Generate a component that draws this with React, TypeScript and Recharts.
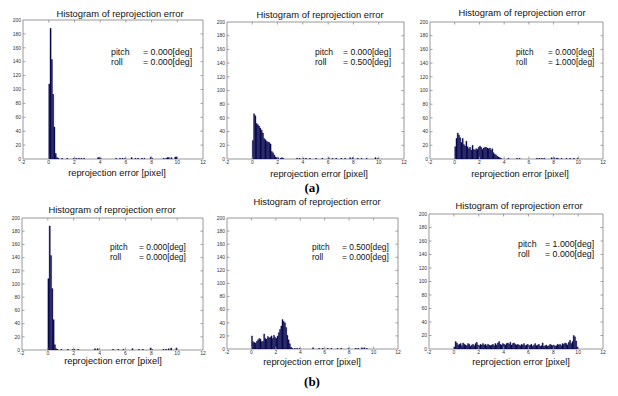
import React from "react";
import { BarChart, Bar, XAxis, YAxis, ReferenceArea, ReferenceLine } from "recharts";

// ── Histogram data: 100 bins of 0.1 px from 0 to 10 ─────────────────────────

const BIN_WIDTH = 0.1;
const X_DOMAIN: [number, number] = [-2, 12];
const Y_DOMAIN: [number, number] = [0, 200];
const X_TICKS = [-2, 0, 2, 4, 6, 8, 10, 12];
const Y_TICKS = [0, 20, 40, 60, 80, 100, 120, 140, 160, 180, 200];

// (a) pitch 0, roll 0
const countsRoll000 = [
  108, 188, 143, 93, 46, 8, 2, 1, 0, 0,
  1, 0, 0, 0, 1, 0, 0, 0, 0, 1,
  0, 1, 0, 1, 0, 1, 0, 1, 0, 0,
  0, 0, 0, 0, 0, 0, 0, 0, 2, 2,
  1, 0, 0, 0, 0, 0, 0, 0, 0, 0,
  0, 0, 1, 0, 0, 1, 0, 1, 0, 1,
  0, 0, 0, 0, 2, 0, 0, 1, 0, 1,
  0, 0, 1, 0, 1, 0, 0, 0, 0, 3,
  1, 0, 0, 0, 0, 0, 0, 0, 0, 1,
  0, 1, 2, 2, 0, 2, 0, 0, 3, 3
];

// (a) pitch 0, roll 0.5
const countsRoll050 = [
  27, 66, 63, 52, 50, 48, 45, 42, 38, 30,
  28, 26, 25, 24, 22, 11, 9, 6, 3, 2,
  2, 0, 1, 2, 1, 0, 0, 0, 0, 0,
  0, 0, 0, 0, 0, 1, 0, 1, 0, 0,
  1, 0, 1, 0, 0, 1, 0, 0, 0, 0,
  1, 0, 0, 0, 0, 1, 0, 0, 0, 0,
  2, 0, 0, 1, 0, 0, 1, 0, 0, 0,
  1, 0, 0, 1, 0, 0, 0, 2, 0, 2,
  0, 0, 0, 1, 0, 0, 1, 0, 0, 0,
  1, 0, 0, 0, 0, 0, 0, 2, 0, 1
];

// (a) pitch 0, roll 1.0
const countsRoll100 = [
  18, 30, 38, 35, 31, 24, 30, 21, 19, 26,
  18, 15, 17, 13, 20, 14, 13, 15, 14, 17,
  19, 17, 14, 16, 17, 17, 16, 15, 16, 13,
  15, 9, 7, 6, 4, 3, 2, 1, 0, 0,
  0, 0, 0, 1, 0, 0, 0, 0, 0, 0,
  1, 0, 1, 0, 0, 0, 0, 0, 0, 0,
  0, 0, 0, 0, 0, 0, 1, 0, 1, 0,
  1, 0, 1, 0, 0, 0, 0, 0, 2, 0,
  2, 0, 1, 1, 0, 0, 1, 0, 0, 0,
  1, 0, 0, 1, 0, 0, 1, 0, 0, 1
];

// (b) pitch 0, roll 0
const countsPitch000 = [
  108, 188, 143, 93, 46, 8, 2, 1, 0, 0,
  1, 0, 0, 0, 0, 1, 0, 0, 0, 1,
  1, 0, 0, 1, 0, 0, 0, 0, 0, 0,
  0, 0, 0, 0, 0, 0, 2, 0, 2, 0,
  0, 0, 0, 0, 0, 0, 0, 0, 0, 0,
  1, 0, 0, 0, 1, 0, 0, 0, 1, 0,
  0, 0, 0, 0, 0, 2, 0, 0, 0, 0,
  1, 0, 0, 1, 0, 0, 0, 0, 0, 3,
  1, 0, 0, 0, 0, 0, 0, 0, 0, 1,
  0, 1, 0, 2, 0, 3, 0, 0, 0, 3
];

// (b) pitch 0.5, roll 0
const countsPitch050 = [
  20, 11, 10, 9, 12, 14, 16, 15, 11, 12,
  23, 16, 15, 19, 17, 18, 20, 16, 21, 18,
  16, 20, 25, 30, 35, 45, 42, 40, 33, 21,
  14, 8, 3, 1, 0, 1, 0, 1, 0, 1,
  0, 0, 0, 0, 0, 0, 0, 0, 0, 0,
  2, 0, 0, 0, 0, 1, 0, 0, 1, 0,
  0, 0, 1, 0, 0, 1, 0, 0, 0, 0,
  1, 0, 0, 1, 0, 0, 0, 0, 0, 1,
  0, 0, 0, 0, 0, 1, 0, 1, 0, 0,
  2, 0, 2, 0, 1, 0, 0, 0, 0, 0
];

// (b) pitch 1.0, roll 0
const countsPitch100 = [
  3, 11, 9, 6, 7, 8, 5, 9, 7, 6,
  5, 8, 7, 4, 6, 7, 5, 8, 10, 6,
  5, 7, 6, 8, 6, 7, 5, 7, 6, 5,
  6, 7, 5, 8, 6, 9, 11, 7, 6, 8,
  7, 6, 8, 9, 7, 10, 6, 8, 9, 7,
  6, 7, 6, 5, 7, 6, 8, 5, 6, 7,
  5, 6, 7, 4, 6, 8, 5, 6, 7, 4,
  5, 9, 4, 5, 6, 4, 5, 7, 6, 5,
  6, 4, 5, 7, 6, 7, 5, 8, 7, 9,
  8, 6, 10, 13, 8, 11, 20, 18, 12, 3
];

// ── Layout ───────────────────────────────────────────────────────────────────

const FONT = "'Liberation Sans', Arial, sans-serif";
const BAR_FILL = "#09094f";
const BOX_STROKE = "#8c8c8c";
const TICK_LEN = 2.5;

const PANELS = [
  { counts: countsRoll000, pitch: "0.000", roll: "0.000",
    plot: { x: 23, y: 20, w: 180, h: 139 }, title: { x: 120, y: 13 }, xlabel: { x: 117, y: 173 },
    note: { x: 111, eq: 143, y: 52, size: 8.8 } },
  { counts: countsRoll050, pitch: "0.000", roll: "0.500",
    plot: { x: 227, y: 22, w: 177, h: 137 }, title: { x: 320, y: 14 }, xlabel: { x: 319, y: 174 },
    note: { x: 315, eq: 343, y: 52, size: 8.6 } },
  { counts: countsRoll100, pitch: "0.000", roll: "1.000",
    plot: { x: 430, y: 22, w: 173, h: 137 }, title: { x: 522, y: 12 }, xlabel: { x: 520, y: 174 },
    note: { x: 516, eq: 548, y: 52, size: 8.3 } },
  { counts: countsPitch000, pitch: "0.000", roll: "0.000",
    plot: { x: 22, y: 218, w: 181, h: 132 }, title: { x: 112, y: 209 }, xlabel: { x: 113, y: 361 },
    note: { x: 110, eq: 139, y: 247, size: 8.4 } },
  { counts: countsPitch050, pitch: "0.500", roll: "0.000",
    plot: { x: 227, y: 218, w: 171, h: 131 }, title: { x: 317, y: 201 }, xlabel: { x: 312, y: 362 },
    note: { x: 312, eq: 342, y: 247, size: 8.4 } },
  { counts: countsPitch100, pitch: "1.000", roll: "0.000",
    plot: { x: 429, y: 214, w: 174, h: 135 }, title: { x: 519, y: 205 }, xlabel: { x: 521, y: 362 },
    note: { x: 518, eq: 545, y: 244, size: 8.8 } }
];

const toBins = (counts: number[]) =>
  counts.map((count, i) => ({ x: +((i + 0.5) * BIN_WIDTH).toFixed(2), count }));

type PanelDef = (typeof PANELS)[number];

const HistPanel = ({ panel }: { panel: PanelDef }) => {
  const { plot } = panel;
  const axisW = 20;
  const axisH = 9;
  const xSpan = X_DOMAIN[1] - X_DOMAIN[0];
  const ySpan = Y_DOMAIN[1] - Y_DOMAIN[0];
  const dx = (TICK_LEN * xSpan) / plot.w;
  const dy = (TICK_LEN * ySpan) / plot.h;
  const tickStyle = { fontSize: 5, fill: "#333", fontFamily: FONT };

  return (
    <div style={{ position: "absolute", left: plot.x - axisW, top: plot.y - 3 }}>
      <BarChart
        width={plot.w + axisW + 5}
        height={plot.h + axisH + 3}
        data={toBins(panel.counts)}
        margin={{ top: 3, right: 5, bottom: 0, left: 0 }}
        barCategoryGap={0}
        barGap={0}
      >
        <XAxis
          type="number"
          dataKey="x"
          domain={X_DOMAIN}
          ticks={X_TICKS}
          interval={0}
          allowDataOverflow
          tickLine={false}
          axisLine={false}
          height={axisH}
          tickSize={0}
          tickMargin={1.5}
          tick={tickStyle}
        />
        <YAxis
          type="number"
          domain={Y_DOMAIN}
          ticks={Y_TICKS}
          interval={0}
          allowDataOverflow
          tickLine={false}
          axisLine={false}
          width={axisW}
          tickSize={0}
          tickMargin={2}
          tick={tickStyle}
        />
        <Bar
          dataKey="count"
          fill={BAR_FILL}
          stroke={BAR_FILL}
          strokeWidth={0.35}
          barSize={(plot.w * BIN_WIDTH) / xSpan}
          isAnimationActive={false}
        />
        <ReferenceArea
          x1={X_DOMAIN[0]}
          x2={X_DOMAIN[1]}
          y1={Y_DOMAIN[0]}
          y2={Y_DOMAIN[1]}
          fill="none"
          fillOpacity={0}
          stroke={BOX_STROKE}
          strokeWidth={0.9}
        />
        {X_TICKS.slice(1, -1).map((t) => (
          <ReferenceLine key={`xb${t}`} segment={[{ x: t, y: Y_DOMAIN[0] }, { x: t, y: Y_DOMAIN[0] + dy }]} stroke={BOX_STROKE} strokeWidth={0.8} />
        ))}
        {X_TICKS.slice(1, -1).map((t) => (
          <ReferenceLine key={`xt${t}`} segment={[{ x: t, y: Y_DOMAIN[1] }, { x: t, y: Y_DOMAIN[1] - dy }]} stroke={BOX_STROKE} strokeWidth={0.8} />
        ))}
        {Y_TICKS.slice(1, -1).map((t) => (
          <ReferenceLine key={`yl${t}`} segment={[{ x: X_DOMAIN[0], y: t }, { x: X_DOMAIN[0] + dx, y: t }]} stroke={BOX_STROKE} strokeWidth={0.8} />
        ))}
        {Y_TICKS.slice(1, -1).map((t) => (
          <ReferenceLine key={`yr${t}`} segment={[{ x: X_DOMAIN[1], y: t }, { x: X_DOMAIN[1] - dx, y: t }]} stroke={BOX_STROKE} strokeWidth={0.8} />
        ))}
      </BarChart>
    </div>
  );
};

const PanelText = ({ panel }: { panel: PanelDef }) => {
  const { note } = panel;
  return (
    <g fontFamily={FONT} fill="#111">
      <text x={panel.title.x} y={panel.title.y} fontSize={9.4} textAnchor="middle" dominantBaseline="central">
        Histogram of reprojection error
      </text>
      <text x={panel.xlabel.x} y={panel.xlabel.y} fontSize={9.3} textAnchor="middle" dominantBaseline="central">
        reprojection error [pixel]
      </text>
      <text x={note.x} y={note.y} fontSize={note.size} dominantBaseline="central">pitch</text>
      <text x={note.eq} y={note.y} fontSize={note.size} dominantBaseline="central">{`= ${panel.pitch}[deg]`}</text>
      <text x={note.x} y={note.y + 10} fontSize={note.size} dominantBaseline="central">roll</text>
      <text x={note.eq} y={note.y + 10} fontSize={note.size} dominantBaseline="central">{`= ${panel.roll}[deg]`}</text>
    </g>
  );
};

export default function App() {
  return (
    <div style={{ position: "absolute", left: 0, top: 0, width: 618, height: 396, background: "#fff" }}>
      {PANELS.map((p, i) => (
        <HistPanel key={i} panel={p} />
      ))}
      <svg width={618} height={396} style={{ position: "absolute", left: 0, top: 0, pointerEvents: "none" }}>
        {PANELS.map((p, i) => (
          <PanelText key={i} panel={p} />
        ))}
        <text x={312} y={187} fontSize={13} fontWeight="bold" fontFamily="'Liberation Serif', serif" textAnchor="middle" dominantBaseline="central">(a)</text>
        <text x={312} y={381} fontSize={13} fontWeight="bold" fontFamily="'Liberation Serif', serif" textAnchor="middle" dominantBaseline="central">(b)</text>
      </svg>
    </div>
  );
}
